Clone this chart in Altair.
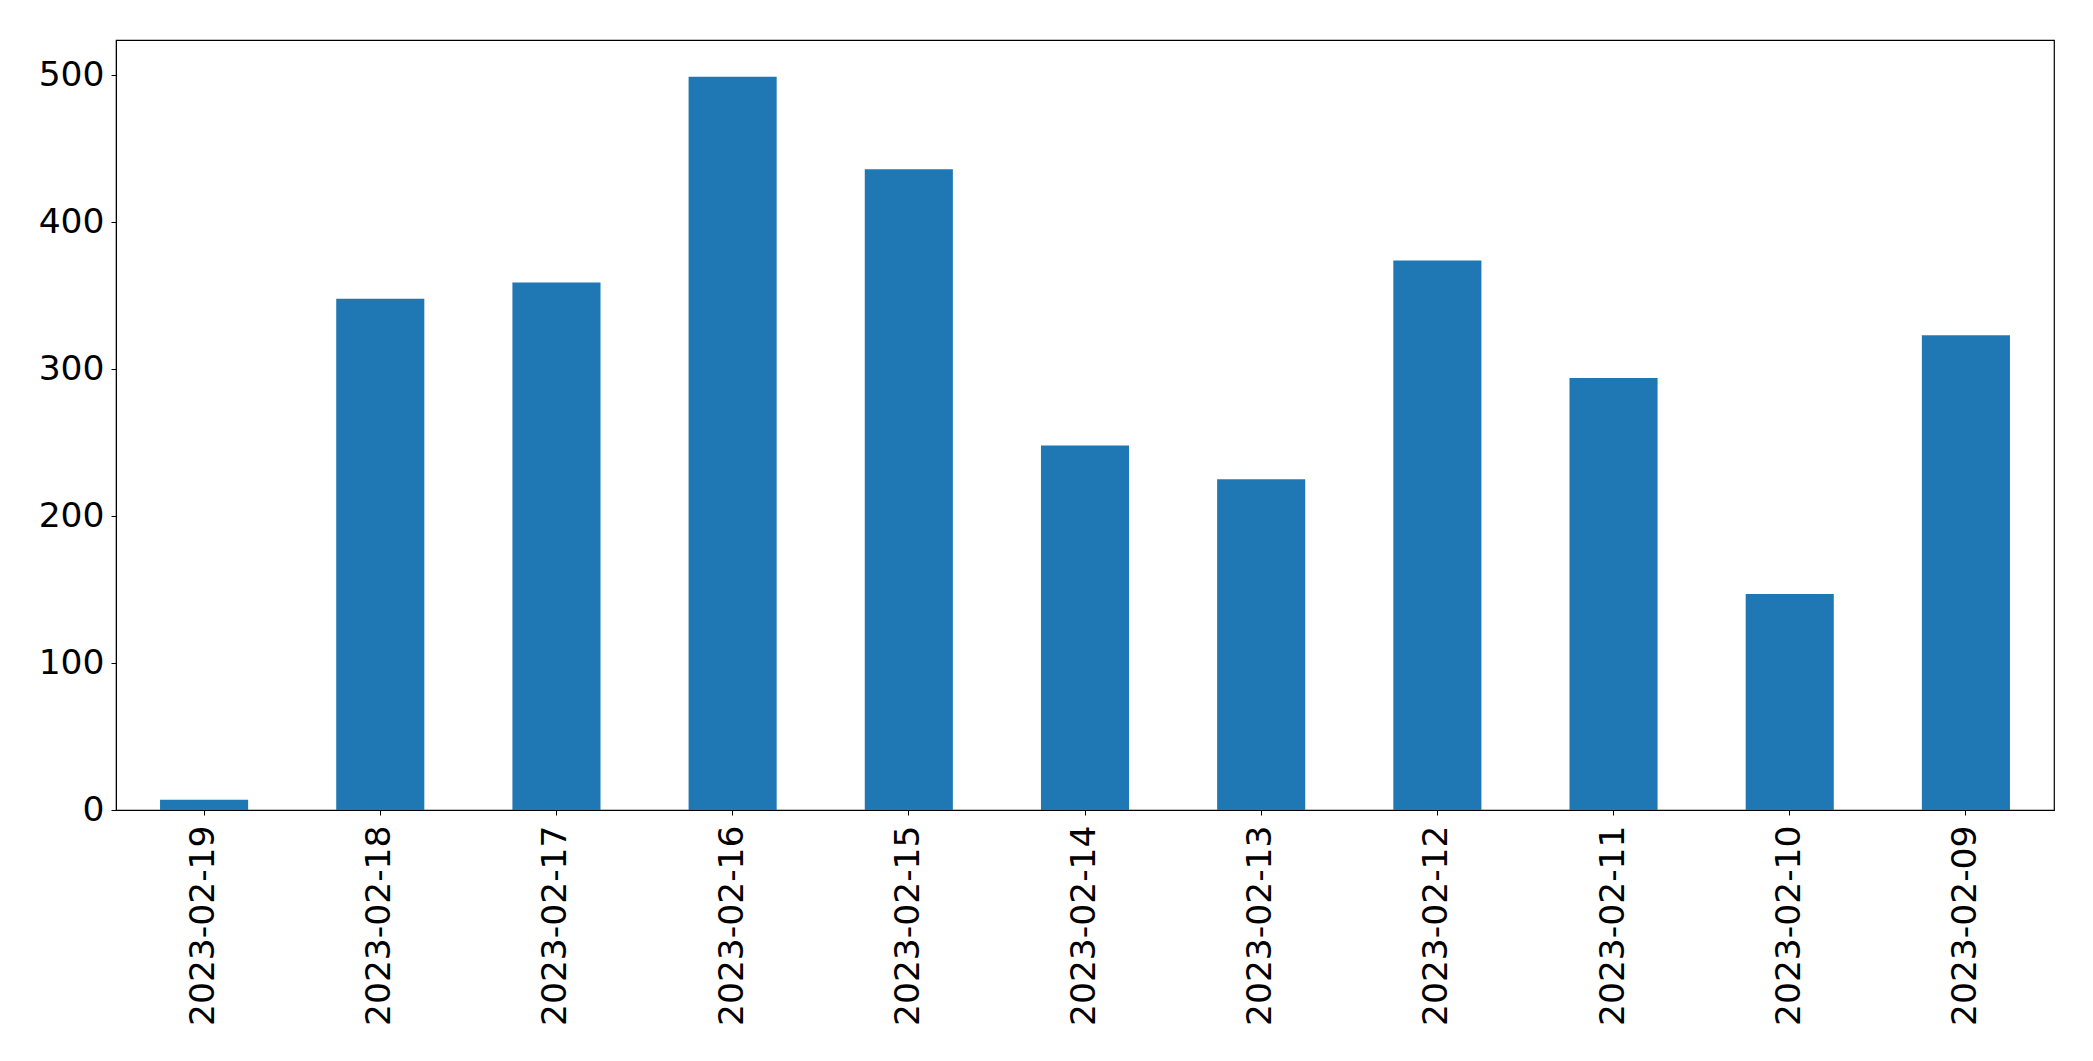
import altair as alt
import pandas as pd

dates = ["2023-02-19", "2023-02-18", "2023-02-17", "2023-02-16", "2023-02-15",
         "2023-02-14", "2023-02-13", "2023-02-12", "2023-02-11", "2023-02-10",
         "2023-02-09"]
counts = [7, 348, 359, 499, 436, 248, 225, 374, 294, 147, 323]
y_ticks = [0, 100, 200, 300, 400, 500]

df = pd.DataFrame({"date": dates, "count": counts})

FONT = "DejaVu Sans"
FS = 34.5

chart = alt.Chart(df).mark_bar(color="#1f77b4").encode(
    x=alt.X("date:N", sort=dates, title=None,
            scale=alt.Scale(paddingInner=0.5, paddingOuter=0.25),
            axis=alt.Axis(labelAngle=270, labelFont=FONT, labelFontSize=FS,
                          labelColor="black", tickColor="black", domainColor="black",
                          tickSize=5, labelPadding=10, grid=False, labelLimit=0)),
    y=alt.Y("count:Q", title=None,
            scale=alt.Scale(domain=[0, 524], nice=False, zero=True),
            axis=alt.Axis(values=y_ticks, labelFont=FONT, labelFontSize=FS,
                          labelColor="black", tickColor="black", domainColor="black",
                          tickSize=5, labelPadding=7, grid=False)),
).properties(
    width=1938,
    height=770,
    autosize=alt.AutoSizeParams(type="none"),
    padding={"left": 116, "top": 40, "right": 39, "bottom": 251},
    background="white",
).configure_view(
    stroke="black", strokeWidth=1.2
)

chart.save("out.html", embed_options={"renderer": "svg", "actions": False})
